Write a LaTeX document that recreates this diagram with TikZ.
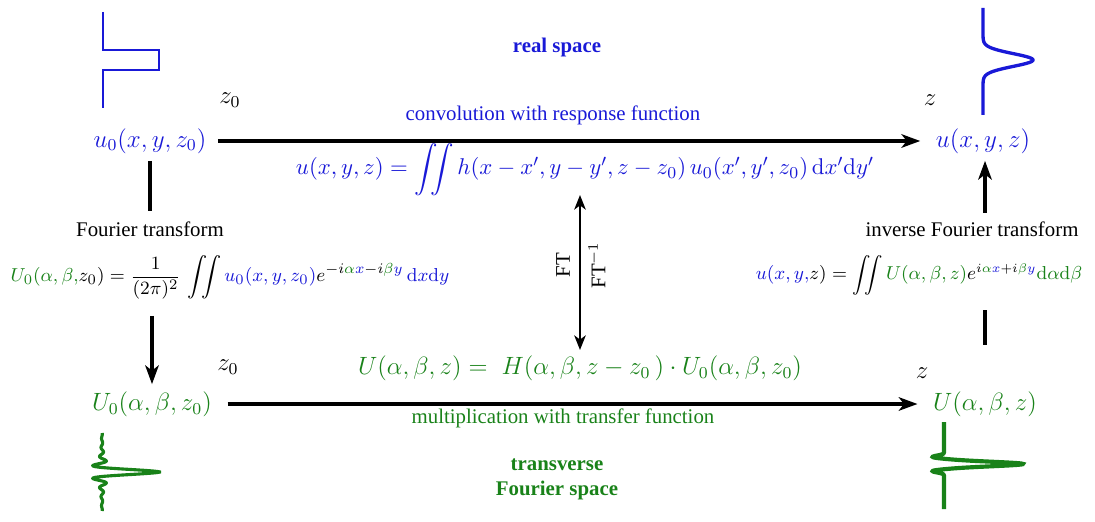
\documentclass[tikz,border=0pt]{standalone}
\usepackage[no-math]{fontspec}
\setmainfont{Liberation Serif}
\usepackage{amsmath,amssymb}
\usetikzlibrary{arrows.meta}
\definecolor{rsblue}{RGB}{25,25,215}
\definecolor{fsgreen}{RGB}{25,130,25}
\newcommand{\rsp}[1]{\textcolor{rsblue}{#1}}
\newcommand{\fsp}[1]{\textcolor{fsgreen}{#1}}
\newcommand{\flatint}{\mathop{\smash{\displaystyle\iint}}}

\begin{document}
\begin{tikzpicture}[x=0.48pt,y=-0.48pt,
  rs/.style={text=rsblue},
  fs/.style={text=fsgreen},
  bigarrow/.style={-{Stealth[length=9pt,width=6.5pt,inset=2.5pt]},line width=1.5pt},
  bar/.style={line width=1.5pt}]
\useasboundingbox (0,0) rectangle (1095,522);

% profiles in real space
\draw[rsblue,line width=1pt] (103,12) -- (103,50) -- (159,50) -- (159,70) -- (103,70) -- (103,108);
\draw[rsblue,line width=1.6pt] plot[domain=-52:55,samples=150] ({983+50*exp(-((\x/9)^2))},{60+\x});

% spectra in Fourier space
\draw[fsgreen,line width=1.5pt] plot[domain=-39:39,samples=300] ({102+58*sin(40*\x)/(0.6981*\x)*exp(-abs(\x)/20)},{472+\x});
\draw[fsgreen,line width=2pt] plot[domain=-42:45,samples=300] ({944+79*exp(-((\x/3.2)^2))-12*exp(-(((abs(\x)-7)/2)^2))},{464+\x});

\node[rs,font=\bfseries] (real) at (557,47) {real space};
\node[fs,font=\bfseries,align=center] (fourier) at (557,479) {transverse\\Fourier space};

\node[rs,font=\large] (u0) at (150,141) {$u_0(x,y,z_0)$};
\node[rs,font=\large] (u) at (983,141) {$u(x,y,z)$};
\node[fs,font=\large] (U0) at (152,404) {$U_0(\alpha,\beta,z_0)$};
\node[fs,font=\large] (U) at (985,404) {$U(\alpha,\beta,z)$};

\node[font=\large] (z0a) at (230,100) {$z_0$};
\node[font=\large] (za) at (930,100) {$z$};
\node[font=\large] (z0b) at (228,367) {$z_0$};
\node[font=\large] (zb) at (922,373) {$z$};

\node[rs,inner sep=0pt] (conv) at (553,115) {convolution with response function};
\node[rs,inner sep=0pt,font=\fontsize{11.3}{13}\selectfont] (conveq) at (585,169) {$u(x,y,z)=\flatint h(x-x',y-y',z-z_0)\,u_0(x',y',z_0)\,\mathrm{d}x'\mathrm{d}y'$};
\node[fs] (mult) at (563,418) {multiplication with transfer function};
\node[fs,font=\large] (Ueq) at (580,368) {$U(\alpha,\beta,z)=\;H(\alpha,\beta,z-z_0\,)\cdot U_0(\alpha,\beta,z_0)$};

\node[inner sep=0pt] (ftl) at (150,229) {Fourier transform};
\node[inner sep=0pt,font=\fontsize{9.4}{11}\selectfont] (ftleq) at (230,275) {$\fsp{U_0(\alpha,\beta,}z_0)=\smash{\displaystyle\frac{1}{(2\pi)^2}}\,\flatint \rsp{u_0(x,y,z_0)}e^{-i\fsp{\alpha}\rsp{x}-i\fsp{\beta}\rsp{y}}\,\rsp{\mathrm{d}x\mathrm{d}y}$};
\node[inner sep=0pt] (iftl) at (972,229) {inverse Fourier transform};
\node[inner sep=0pt,font=\fontsize{8.6}{10}\selectfont] (ifteq) at (919,274) {$\rsp{u(x,y,}z)=\flatint \fsp{U(\alpha,\beta,z)}e^{i\fsp{\alpha}\rsp{x}+i\fsp{\beta}\rsp{y}}\fsp{\mathrm{d}\alpha\mathrm{d}\beta}$};

\coordinate (fttop) at (580,195);
\coordinate (ftbot) at (580,350);
\node[rotate=90] (ft) at (563,265) {FT};
\node[rotate=90] (ift) at (597,265) {FT$^{-1}$};

\draw[bigarrow,shorten <=2pt,shorten >=4pt] (u0) -- (u);
\draw[bigarrow,shorten <=4pt,shorten >=4pt] (U0) -- (U);
\draw[bar,shorten >=5pt] (u0) -- (ftl);
\draw[bigarrow,shorten <=14pt] (ftleq.south -| U0) -- (U0);
\draw[bar,shorten <=19pt,shorten >=12pt] (U) -- (ifteq.south -| U);
\draw[bigarrow,shorten <=4pt] (iftl.north -| U) -- (u.south -| U);
\draw[{Stealth[length=7pt,width=5.5pt,inset=2pt]}-{Stealth[length=7pt,width=5.5pt,inset=2pt]},line width=1pt] (fttop) -- (ftbot);

\end{tikzpicture}
\end{document}
